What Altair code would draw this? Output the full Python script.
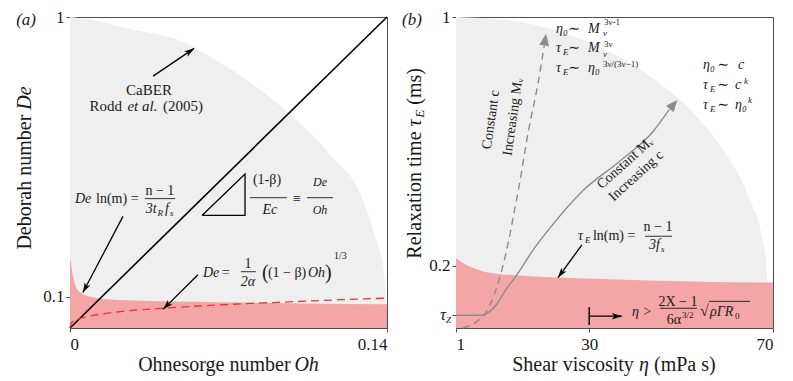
import math
import json
import altair as alt
import pandas as pd

W, H = 317, 311
FONT = "'Liberation Serif', 'DejaVu Serif', 'Times New Roman', serif"
INK = "#1a1a1a"
FRAME = "#4d4d4d"
GRAYFILL = "#efefef"
PINK = "#f4a6a6"
RED = "#e8372f"
CURVE_GRAY = "#8c8c8c"

# ---------------- Panel (a) ----------------
a_xdom = [0, 0.14]
a_ydom = [0, 1]
a_xticks = [0, 0.14]
a_xlabels = ["0", "0.14"]
a_yticks = [0.1, 1]
a_ylabels = ["0.1", "1"]

caber_x = [0, 0.006, 0.0278, 0.0486, 0.062, 0.0751, 0.0958, 0.1148, 0.1281, 0.1356, 0.1387, 0.1395, 0.1397]
caber_y = [1.0, 0.995, 0.959, 0.924, 0.872, 0.813, 0.695, 0.559, 0.432, 0.273, 0.178, 0.098, 0.0]

limit_a_x = [0, 0.0005, 0.0011, 0.0024, 0.0046, 0.0102, 0.0252, 0.0662, 0.1016, 0.14]
limit_a_y = [0.22, 0.205, 0.175, 0.137, 0.114, 0.098, 0.089, 0.083, 0.079, 0.076]

diag_x = [0, 0.14]
diag_y = [0, 1]

cube_x = [0, 0.0005, 0.002, 0.005, 0.01, 0.02, 0.04, 0.06, 0.08, 0.10, 0.12, 0.14]
cube_y = [0.0, 0.015, 0.024, 0.032, 0.040, 0.051, 0.063, 0.072, 0.079, 0.085, 0.091, 0.096]

tri_x = [0.0583, 0.0773, 0.0773, 0.0583]
tri_y = [0.362, 0.362, 0.495, 0.362]

a_arrows = [(0.0367, 0.810, 0.0548, 0.899),
            (0.0234, 0.359, 0.0057, 0.114),
            (0.0565, 0.171, 0.0411, 0.060)]
a_bars = [(0.0331, 0.0464, 0.416), (0.0795, 0.0958, 0.419),
          (0.1047, 0.1161, 0.419), (0.0755, 0.0821, 0.181)]

# text, x, y, size, italic, align, angle
a_texts = [
    ("(a)", -0.0194, 0.990, 17, True, "center", 0),
    ("Deborah number", -0.0199, 0.686, 20, False, "right", 270),
    ("De", -0.0199, 0.702, 20, True, "left", 270),
    ("Ohnesorge number", 0.0974, -0.1175, 20, False, "right", 0),
    ("Oh", 0.0991, -0.1175, 20, True, "left", 0),
    ("CaBER", 0.0349, 0.765, 15, False, "center", 0),
    ("Rodd", 0.0230, 0.714, 15, False, "right", 0),
    ("et al.", 0.0320, 0.714, 15, True, "center", 0),
    ("(2005)", 0.0411, 0.714, 15, False, "left", 0),
    ("(1-β)", 0.0870, 0.476, 14, False, "center", 0),
    ("Ec", 0.0883, 0.378, 14, True, "center", 0),
    ("≡", 0.1002, 0.416, 14, False, "center", 0),
    ("De", 0.1104, 0.470, 12, True, "center", 0),
    ("Oh", 0.1104, 0.378, 12, True, "center", 0),
    ("De", 0.0022, 0.416, 14, True, "left", 0),
    ("ln(m) =", 0.0115, 0.416, 14, False, "left", 0),
    ("n − 1", 0.0397, 0.441, 14, False, "center", 0),
    ("3t", 0.0335, 0.384, 14, True, "left", 0),
    ("R", 0.0386, 0.371, 9, True, "left", 0),
    ("f", 0.0420, 0.384, 14, True, "left", 0),
    ("s", 0.0442, 0.371, 9, True, "left", 0),
    ("De", 0.0587, 0.178, 14, True, "left", 0),
    ("=", 0.0670, 0.178, 14, False, "left", 0),
    ("1", 0.0786, 0.206, 14, False, "center", 0),
    ("2α", 0.0786, 0.149, 14, True, "center", 0),
    ("(", 0.0848, 0.178, 20, False, "left", 0),
    ("(1 − β)", 0.0874, 0.178, 14, False, "left", 0),
    ("Oh", 0.1051, 0.178, 14, True, "left", 0),
    (")", 0.1126, 0.178, 20, False, "left", 0),
    ("1/3", 0.1166, 0.232, 10, False, "left", 0),
]

# ---------------- Panel (b) ----------------
b_xdom = [1, 70]
b_ydom = [0, 1]
b_xticks = [1, 30, 70]
b_xlabels = ["1", "30", "70"]
b_yticks = [0.041, 0.2, 1]
b_ylabels = ["", "0.2", "1"]

cab_b_x = [1, 12.8, 24.2, 35.0, 44.6, 53.0, 59.8, 64.8, 67.9, 68.6, 68.9, 68.95]
cab_b_y = [1.0, 0.989, 0.950, 0.884, 0.795, 0.686, 0.559, 0.418, 0.269, 0.191, 0.114, 0.0]

limit_b_x = [1, 3.18, 5.35, 8.18, 15.6, 22.8, 35.8, 54.1, 70]
limit_b_y = [0.225, 0.203, 0.190, 0.178, 0.168, 0.162, 0.156, 0.149, 0.146]

mv_x = [2.5, 5.35, 7.53, 9.71, 11.2, 12.5, 13.6, 14.7, 16.9, 18.9, 20.2]
mv_y = [0.0, 0.019, 0.051, 0.124, 0.200, 0.283, 0.368, 0.454, 0.644, 0.790, 0.908]

conc_x = [1, 6.44, 8.18, 9.71, 11.9, 14.1, 17.8, 22.8, 28.6, 36.7, 43.9, 47.4]
conc_y = [0.041, 0.041, 0.051, 0.073, 0.124, 0.168, 0.251, 0.346, 0.441, 0.537, 0.632, 0.702]

b_gray_heads = [(20.2, 0.908, 20.6, 0.946), (47.4, 0.702, 49.2, 0.733)]
b_arrows = [(28.4, 0.267, 23.2, 0.162), (30, 0.038, 37.1, 0.038)]
b_vbar = [(30, 0.0095, 0.067)]
b_bars = [(42.14, 48.02, 0.295), (45.40, 53.46, 0.0635), (56.07, 64.99, 0.0857)]

b_texts = [
    ("(b)", -8.58, 0.990, 17, True, "center", 0),
    ("Relaxation time", -7.92, 0.632, 20, False, "right", 270),
    ("τ", -7.92, 0.648, 20, True, "left", 270),
    ("E", -6.84, 0.676, 13, True, "left", 270),
    ("(ms)", -7.92, 0.718, 20, False, "left", 270),
    ("Shear viscosity", 39.7, -0.1175, 20, False, "right", 0),
    ("η", 41.9, -0.1175, 20, True, "center", 0),
    ("(mPa s)", 44.1, -0.1175, 20, False, "left", 0),
    ("τ", -1.18, 0.041, 17, True, "right", 0),
    ("Z", -1.18, 0.025, 9, True, "left", 0),
    # top-left scaling block
    ("η₀", 22.77, 0.962, 14, True, "left", 0),
    ("∼", 26.69, 0.962, 14, False, "center", 0),
    ("M", 29.73, 0.962, 14, True, "left", 0),
    ("3ν-1", 33.2, 0.984, 9, False, "left", 0),
    ("v", 33.0, 0.948, 9, True, "left", 0),
    ("τ", 22.77, 0.899, 14, True, "left", 0),
    ("E", 24.29, 0.886, 9, True, "left", 0),
    ("∼", 26.69, 0.899, 14, False, "center", 0),
    ("M", 29.73, 0.899, 14, True, "left", 0),
    ("3ν", 33.2, 0.912, 9, False, "left", 0),
    ("v", 33.0, 0.880, 9, True, "left", 0),
    ("τ", 22.77, 0.835, 14, True, "left", 0),
    ("E", 24.29, 0.822, 9, True, "left", 0),
    ("∼", 26.69, 0.835, 14, False, "center", 0),
    ("η₀", 29.73, 0.835, 14, True, "left", 0),
    ("3ν/(3ν−1)", 33.0, 0.850, 9, False, "left", 0),
    # right scaling block
    ("η₀", 54.76, 0.845, 14, True, "left", 0),
    ("∼", 59.12, 0.845, 14, False, "center", 0),
    ("c", 62.38, 0.845, 14, True, "left", 0),
    ("τ", 54.76, 0.781, 14, True, "left", 0),
    ("E", 56.28, 0.768, 9, True, "left", 0),
    ("∼", 59.12, 0.781, 14, False, "center", 0),
    ("c", 61.73, 0.781, 14, True, "left", 0),
    ("k", 63.69, 0.793, 9, True, "left", 0),
    ("τ", 54.76, 0.718, 14, True, "left", 0),
    ("E", 56.28, 0.705, 9, True, "left", 0),
    ("∼", 59.12, 0.718, 14, False, "center", 0),
    ("η₀", 61.73, 0.718, 14, True, "left", 0),
    ("k", 64.56, 0.733, 9, True, "left", 0),
    # breakup-limit formula
    ("τ", 27.56, 0.295, 14, True, "left", 0),
    ("E", 29.08, 0.283, 9, True, "left", 0),
    ("ln(m) =", 30.80, 0.295, 14, False, "left", 0),
    ("n − 1", 44.97, 0.324, 14, False, "center", 0),
    ("3f", 43.01, 0.267, 14, True, "left", 0),
    ("s", 45.62, 0.254, 9, True, "left", 0),
    # viscosity criterion
    ("η  >", 39.31, 0.051, 14, True, "left", 0),
    ("2X − 1", 49.32, 0.083, 14, False, "center", 0),
    ("6α", 49.98, 0.025, 14, False, "right", 0),
    ("3/2", 50.19, 0.041, 9, False, "left", 0),
    ("√", 54.11, 0.054, 16, False, "left", 0),
    ("ρΓR", 56.29, 0.051, 14, True, "left", 0),
    ("0", 61.73, 0.038, 9, False, "left", 0),
    # rotated labels along curves
    ("Constant c", 8.62, 0.670, 14, False, "center", 278),
    ("Increasing Mᵥ", 13.4, 0.679, 14, False, "center", 278),
    ("Constant Mᵥ", 37.8, 0.530, 14, False, "center", 318),
    ("Increasing c", 40.2, 0.489, 14, False, "center", 318),
]

BLACK_HEAD = "M0,0L0.32,1L0,0.75L-0.32,1Z"
GRAY_HEAD = "M0,0L0.42,1L-0.42,1Z"


def lab_expr(vals, labs):
    return f"{json.dumps(labs)}[indexof({json.dumps(vals)}, datum.value)]"


def make_enc(xdom, ydom, xt, xl, yt, yl):
    xs = alt.Scale(domain=xdom, nice=False, zero=False)
    ys = alt.Scale(domain=ydom, nice=False, zero=False)
    xa = alt.Axis(values=xt, labelExpr=lab_expr(xt, xl), title=None, labelPadding=4)
    ya = alt.Axis(values=yt, labelExpr=lab_expr(yt, yl), title=None, labelPadding=2)
    X = lambda f: alt.X(f"{f}:Q", scale=xs, axis=xa)
    Y = lambda f: alt.Y(f"{f}:Q", scale=ys, axis=ya)
    return X, Y


def angle_of(x0, y0, x1, y1, xdom, ydom):
    dx = (x1 - x0) / (xdom[1] - xdom[0]) * W
    dy = (y1 - y0) / (ydom[1] - ydom[0]) * H
    return math.degrees(math.atan2(dx, dy)) % 360


def area(xs, ys, color, X, Y):
    df = pd.DataFrame({"x": xs, "y": ys})
    return alt.Chart(df).mark_area(color=color, opacity=1, interpolate="monotone").encode(
        x=X("x"), y=Y("y"), y2=alt.datum(0))


def line(xs, ys, color, width, X, Y, dash=None, interp="monotone"):
    df = pd.DataFrame({"x": xs, "y": ys, "o": list(range(len(xs)))})
    kw = dict(color=color, strokeWidth=width, interpolate=interp)
    if dash:
        kw["strokeDash"] = dash
    return alt.Chart(df).mark_line(**kw).encode(x=X("x"), y=Y("y"), order="o:Q")


def arrows(rows, color, X, Y, xdom, ydom, shaft=True, shape=BLACK_HEAD, size=400, width=1.3):
    df = pd.DataFrame(rows, columns=["x", "y", "x2", "y2"])
    df["ang"] = [angle_of(r[0], r[1], r[2], r[3], xdom, ydom) for r in rows]
    out = []
    if shaft:
        out.append(alt.Chart(df).mark_rule(color=color, strokeWidth=width).encode(
            x=X("x"), y=Y("y"), x2=alt.X2("x2:Q"), y2=alt.Y2("y2:Q")))
    out.append(alt.Chart(df).mark_point(shape=shape, filled=True, size=size, color=color,
                                        opacity=1, strokeWidth=0).encode(
        x=X("x2"), y=Y("y2"), angle=alt.Angle("ang:Q", scale=None)))
    return out


def hbars(rows, X, Y, width=0.9):
    df = pd.DataFrame(rows, columns=["x", "x2", "y"])
    return alt.Chart(df).mark_rule(color=INK, strokeWidth=width).encode(
        x=X("x"), x2=alt.X2("x2:Q"), y=Y("y"))


def texts(items, X, Y):
    groups = {}
    for t, x, y, s, it, al, an in items:
        groups.setdefault((s, it, al, an), []).append((t, x, y))
    out = []
    for (s, it, al, an), rows in groups.items():
        df = pd.DataFrame(rows, columns=["t", "x", "y"])
        out.append(alt.Chart(df).mark_text(font=FONT, fontSize=s,
                                           fontStyle="italic" if it else "normal",
                                           align=al, angle=an, baseline="middle",
                                           color=INK).encode(
            x=X("x"), y=Y("y"), text="t:N"))
    return out


# ---- build panel (a)
Xa, Ya = make_enc(a_xdom, a_ydom, a_xticks, a_xlabels, a_yticks, a_ylabels)
layers_a = [
    area(caber_x, caber_y, GRAYFILL, Xa, Ya),
    area(limit_a_x, limit_a_y, PINK, Xa, Ya),
    line(diag_x, diag_y, "black", 1.6, Xa, Ya, interp="linear"),
    line(cube_x, cube_y, RED, 1.3, Xa, Ya, dash=[8, 5]),
    line(tri_x, tri_y, "black", 1.3, Xa, Ya, interp="linear"),
    hbars(a_bars, Xa, Ya),
]
layers_a += arrows(a_arrows, "black", Xa, Ya, a_xdom, a_ydom)
layers_a += texts(a_texts, Xa, Ya)
panel_a = alt.layer(*layers_a).properties(width=W, height=H)

# ---- build panel (b)
Xb, Yb = make_enc(b_xdom, b_ydom, b_xticks, b_xlabels, b_yticks, b_ylabels)
vb = pd.DataFrame(b_vbar, columns=["x", "y", "y2"])
layers_b = [
    area(cab_b_x, cab_b_y, GRAYFILL, Xb, Yb),
    area(limit_b_x, limit_b_y, PINK, Xb, Yb),
    line(mv_x, mv_y, CURVE_GRAY, 1.4, Xb, Yb, dash=[7, 5]),
    line(conc_x, conc_y, CURVE_GRAY, 1.4, Xb, Yb),
    hbars(b_bars, Xb, Yb),
    alt.Chart(vb).mark_rule(color="black", strokeWidth=1.5).encode(
        x=Xb("x"), y=Yb("y"), y2=alt.Y2("y2:Q")),
]
layers_b += arrows(b_gray_heads, CURVE_GRAY, Xb, Yb, b_xdom, b_ydom, shaft=False,
                   shape=GRAY_HEAD, size=560)
layers_b += arrows(b_arrows, "black", Xb, Yb, b_xdom, b_ydom)
layers_b += texts(b_texts, Xb, Yb)
panel_b = alt.layer(*layers_b).properties(width=W, height=H)

chart = alt.hconcat(panel_a, panel_b, spacing=69, bounds="flush").properties(
    padding={"left": 6, "top": -1, "right": 0, "bottom": 0}
).configure_view(stroke=FRAME, strokeWidth=1).configure_axis(
    domain=False, grid=False, ticks=True, tickSize=4, tickColor=FRAME,
    labelFont=FONT, labelFontSize=17, labelColor=INK
)

chart.save("out.html", embed_options={"renderer": "svg", "actions": False})
